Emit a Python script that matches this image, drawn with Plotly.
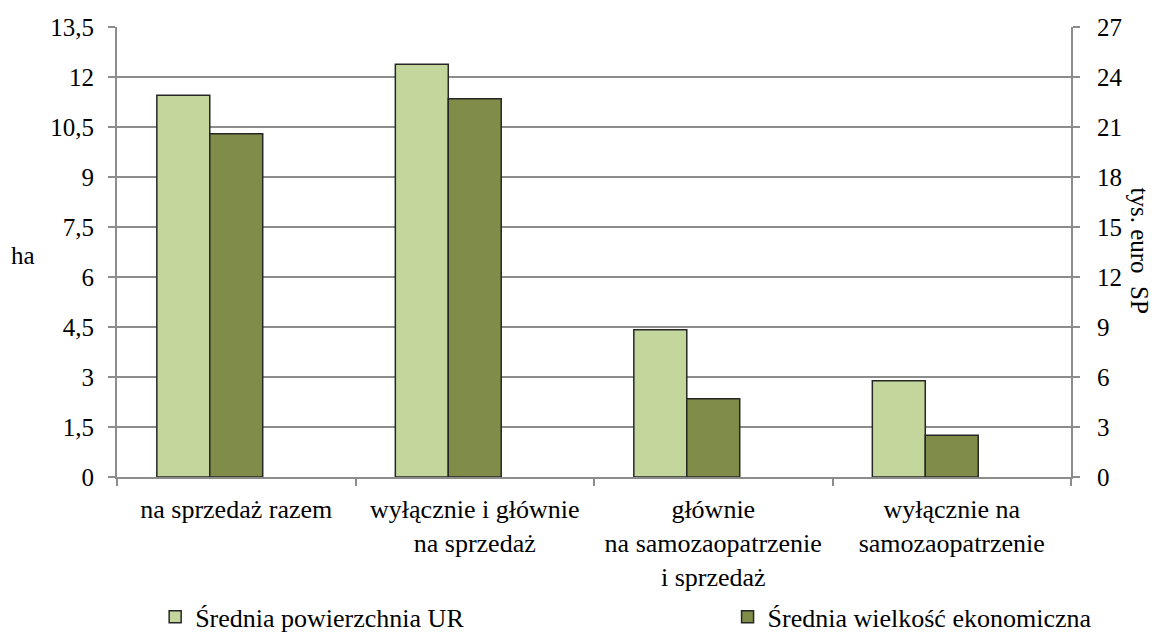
import plotly.graph_objects as go

# Categories of farms by production destination
categories = [
    "na sprzedaż razem",
    "wyłącznie i głównie<br>na sprzedaż",
    "głównie<br>na samozaopatrzenie<br>i sprzedaż",
    "wyłącznie na<br>samozaopatrzenie",
]
# Average agricultural land area (ha) - left axis
area_ha = [11.45, 12.38, 4.42, 2.89]
# Average economic size (thousand euro SO) - right axis
econ_size = [20.6, 22.7, 4.7, 2.5]

left_ticks = [0, 1.5, 3, 4.5, 6, 7.5, 9, 10.5, 12, 13.5]
right_ticks = [0, 3, 6, 9, 12, 15, 18, 21, 24, 27]

FONT = "Liberation Serif"
GRID = "#8c8c8c"
EDGE = "#262626"
BAR_W = 0.222

fig = go.Figure()
fig.add_trace(go.Bar(
    x=categories, y=area_ha, name="Średnia powierzchnia UR",
    marker=dict(color="#c3d69b", line=dict(color=EDGE, width=1.5)),
    width=BAR_W, offset=-1.5 * BAR_W, yaxis="y", legend="legend",
))
fig.add_trace(go.Bar(
    x=categories, y=econ_size, name="Średnia wielkość ekonomiczna",
    marker=dict(color="#7f8d48", line=dict(color=EDGE, width=1.5)),
    width=BAR_W, offset=-0.5 * BAR_W, yaxis="y2", legend="legend2",
))

legend_common = dict(
    orientation="h", yanchor="middle", y=-0.311, xanchor="left",
    font=dict(family=FONT, size=26, color="black"), bgcolor="rgba(0,0,0,0)",
    itemwidth=30, tracegroupgap=0,
)

fig.update_layout(
    width=1157, height=633,
    margin=dict(l=117, r=86, t=27, b=156, autoexpand=False),
    paper_bgcolor="white", plot_bgcolor="white",
    font=dict(family=FONT, size=25, color="black"),
    separators=", ",
    barmode="overlay",
    showlegend=True,
    legend=dict(x=0.040, **legend_common),
    legend2=dict(x=0.640, **legend_common),
    xaxis=dict(
        type="category", tickson="boundaries", ticks="outside", ticklen=7,
        tickcolor=GRID, tickwidth=2, automargin=False, ticklabelstandoff=8,
        showline=True, linecolor=GRID, linewidth=2,
        showgrid=False, tickfont=dict(family=FONT, size=26, color="black"),
    ),
    yaxis=dict(
        range=[0, 13.5], tickvals=left_ticks, ticks="outside", ticklen=7,
        tickcolor=GRID, tickwidth=2, automargin=False, ticklabelstandoff=9,
        showline=True, linecolor=GRID, linewidth=2,
        showgrid=True, gridcolor=GRID, gridwidth=2,
        zeroline=False, tickfont=dict(family=FONT, size=25, color="black"),
    ),
    yaxis2=dict(
        range=[0, 27], tickvals=right_ticks, overlaying="y", side="right",
        ticks="outside", ticklen=7, tickcolor=GRID, tickwidth=2,
        automargin=False, ticklabelstandoff=12,
        showline=True, linecolor=GRID, linewidth=2,
        showgrid=False, zeroline=False,
        tickfont=dict(family=FONT, size=25, color="black"),
    ),
    annotations=[
        dict(text="ha", xref="paper", yref="paper", x=-0.0985, y=0.493,
             xanchor="center", yanchor="middle", showarrow=False,
             font=dict(family=FONT, size=25, color="black")),
        dict(text="tys. euro  SP", xref="paper", yref="paper", x=1.072, y=0.504,
             xanchor="center", yanchor="middle", showarrow=False,
             textangle=90, font=dict(family=FONT, size=25, color="black")),
    ],
)

fig.write_html("out.html")
